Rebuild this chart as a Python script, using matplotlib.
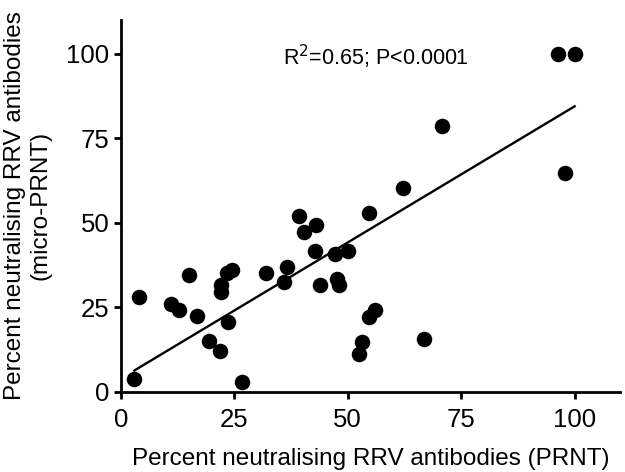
import numpy as np
import matplotlib
matplotlib.use('Agg')
from matplotlib import pyplot as plt

plt.rcParams['font.family'] = ['Liberation Sans', 'DejaVu Sans']

# DATOS
prnt = [3.0, 4.0, 11.1, 12.8, 15.0, 16.7, 19.5, 21.8, 22.0, 22.0, 23.7, 23.4, 24.5,
        26.8, 32.1, 36.0, 36.6, 39.3, 40.4, 43.1, 42.9, 43.8, 47.3, 50.0, 47.6,
        48.2, 52.4, 53.2, 54.8, 56.0, 54.8, 62.3, 66.8, 70.7, 96.4, 100.0, 97.9]
micro_prnt = [3.8, 27.9, 26.0, 24.3, 34.4, 22.3, 14.9, 12.1, 31.5, 29.6, 20.5, 35.2, 36.1,
              2.8, 35.2, 32.4, 36.9, 51.9, 47.2, 49.2, 41.7, 31.5, 40.7, 41.7, 33.4,
              31.5, 11.2, 14.8, 22.2, 24.2, 52.8, 60.3, 15.7, 78.5, 100.0, 100.0, 64.7]
# recta tal como aparece en la figura
fit_slope = 0.806
fit_intercept = 3.85
ticks = [0, 25, 50, 75, 100]
stats_text = 'R$^2$=0.65; P<0.0001'

x = np.array(prnt)
y = np.array(micro_prnt)

fig = plt.figure(figsize=(6.25, 4.72), dpi=100)
ax = fig.add_axes([120.7 / 625, 80.3 / 472, 499.3 / 625, 371.7 / 472])

ax.scatter(x, y, s=125, color='black', zorder=3, linewidths=0)

xs = np.array([x.min(), x.max()])
ax.plot(xs, fit_slope * xs + fit_intercept, color='black', lw=1.7)

ax.set_xlim(0, 110)
ax.set_ylim(0, 110)
ax.set_xticks(ticks)
ax.set_yticks(ticks)
ax.tick_params(labelsize=18.5, width=2, length=5, direction='out')
ax.tick_params(axis='x', pad=7)
ax.tick_params(axis='y', pad=3)
for s in ['top', 'right']:
    ax.spines[s].set_visible(False)
for s in ['left', 'bottom']:
    ax.spines[s].set_linewidth(2)

ax.set_xlabel('Percent neutralising RRV antibodies (PRNT)', fontsize=17.5, labelpad=11)
ax.set_ylabel('Percent neutralising RRV antibodies\n(micro-PRNT)', fontsize=17.5, labelpad=11)
ax.text(35.7, 96.5, stats_text, fontsize=15.5, ha='left', va='baseline')

fig.savefig('out.png', dpi=100)
